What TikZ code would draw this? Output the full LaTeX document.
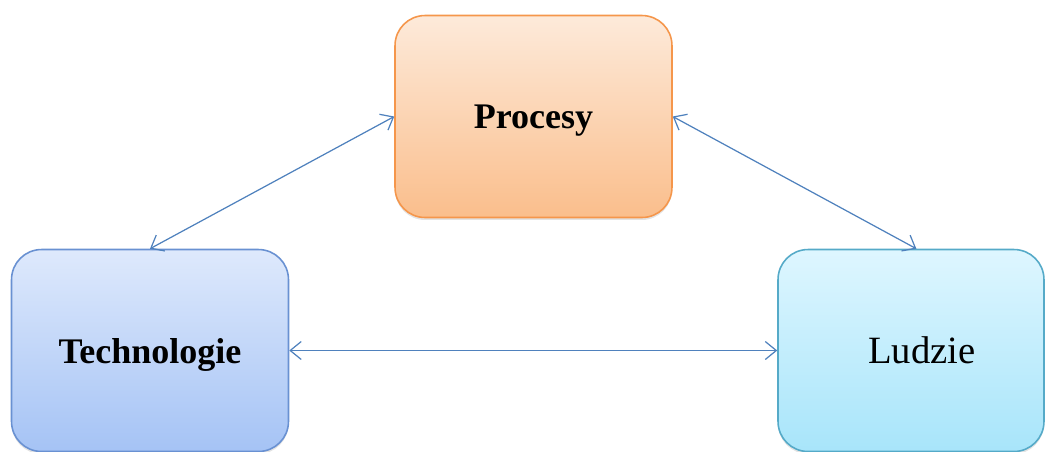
\documentclass[tikz,border=0pt]{standalone}
\usepackage{fontspec}
\setmainfont{Liberation Serif}
\usetikzlibrary{positioning,calc,arrows.meta,shadows}

\definecolor{procTop}{RGB}{253,234,218}
\definecolor{procBot}{RGB}{250,190,140}
\definecolor{procLine}{RGB}{245,150,75}
\definecolor{techTop}{RGB}{222,233,252}
\definecolor{techBot}{RGB}{165,195,245}
\definecolor{techLine}{RGB}{105,145,210}
\definecolor{ludTop}{RGB}{222,246,255}
\definecolor{ludBot}{RGB}{168,229,250}
\definecolor{ludLine}{RGB}{85,170,200}
\definecolor{linkblue}{RGB}{79,129,189}

\tikzset{
  area/.style={rectangle, rounded corners=0.6cm, line width=0.9pt,
               minimum width=5.54cm, minimum height=4.04cm, align=center,
               text depth=0pt,
               drop shadow={shadow xshift=0pt, shadow yshift=-0.05cm, opacity=0.22}},
  link/.style={draw=linkblue, line width=0.7pt,
               {Straight Barb[length=2.2mm,width=3.6mm]}-{Straight Barb[length=2.2mm,width=3.6mm]}}
}

\begin{document}
\begin{tikzpicture}[x=0.02cm, y=-0.02cm]
  \useasboundingbox (0,0) rectangle (1045,451);
  \clip (0,0) rectangle (1045,451);

  % three areas
  \node[area, draw=procLine, top color=procTop, bottom color=procBot]
        (procesy) at (533.5,116.5) {\fontsize{20.5}{24}\selectfont\textbf{Procesy}};
  \node[area, draw=techLine, top color=techTop, bottom color=techBot]
        (techno) at (150,350.5) {\fontsize{20.5}{24}\selectfont\textbf{Technologie}};
  \node[area, draw=ludLine, top color=ludTop, bottom color=ludBot,
        minimum width=5.32cm]
        (ludzie) at (911,350.5) {\fontsize{22}{26}\selectfont\hspace*{0.44cm}Ludzie};

  % links between them
  \draw[link] (techno.north) -- (procesy.west);
  \draw[link] (procesy.east) -- ($(ludzie.north west)!0.52!(ludzie.north east)$);
  \draw[link] (techno.east) -- (ludzie.west);
\end{tikzpicture}
\end{document}
